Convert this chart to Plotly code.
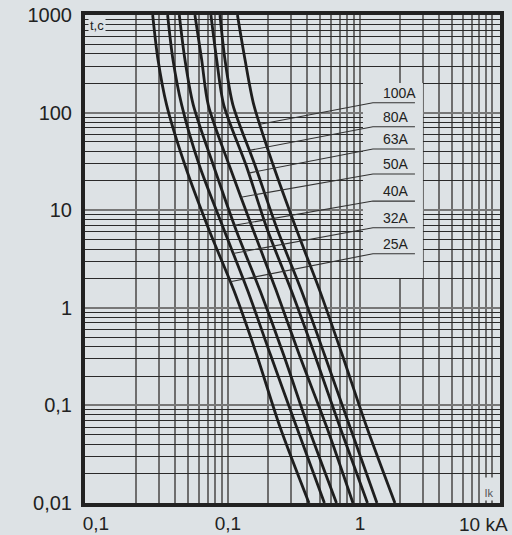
import numpy as np
import plotly.graph_objects as go

# ---- data (time in s, current in kA) ----
t_levels = [1000, 350, 120, 29, 6.3, 1.5, 0.33, 0.06, 0.01]
fuse_labels = ["25A", "32A", "40A", "50A", "63A", "80A", "100A"]
i_25a = [0.0269, 0.0295, 0.0343, 0.0472, 0.0718, 0.111, 0.165, 0.248, 0.411]
i_32a = [0.0349, 0.0383, 0.0446, 0.0606, 0.0933, 0.141, 0.210, 0.331, 0.538]
i_40a = [0.0428, 0.0472, 0.0546, 0.0774, 0.115, 0.175, 0.264, 0.406, 0.664]
i_50a = [0.0562, 0.0632, 0.0709, 0.102, 0.155, 0.232, 0.347, 0.560, 0.885]
i_63a = [0.0743, 0.0821, 0.0929, 0.137, 0.199, 0.302, 0.454, 0.705, 1.14]
i_80a = [0.0870, 0.0949, 0.109, 0.160, 0.237, 0.360, 0.539, 0.840, 1.345]
i_100a = [0.118, 0.1346, 0.157, 0.220, 0.331, 0.496, 0.734, 1.125, 1.84]
currents = [i_25a, i_32a, i_40a, i_50a, i_63a, i_80a, i_100a]

leader_t = [1.85, 3.6, 7.0, 13.6, 24, 41, 76]        # where leader touches curve
label_t = [3.58, 6.62, 12.4, 23.5, 42.4, 71.7, 126]  # underline level

y_tick_vals = [0.01, 0.1, 1, 10, 100, 1000]
y_tick_text = ["0,01", "0,1", "1", "10", "100", "1000"]
x_tick_vals = [0.01, 0.1, 1]
x_tick_text = ["0,1", "0,1", "1"]
x_unit_label = "10 kA"
y_axis_label = "t,c"
x_axis_label = "Ik"

# ---- styling ----
BG = "#dde2e5"
INK = "#1e1e1e"
FONT = "Liberation Sans, Arial, sans-serif"

box_x = [1.054, 3.0]
box_t = [2.02, 201]
leader_x0 = 1.254
underline_x1 = 2.61
text_x = 1.44

x_grid = [m * 10.0 ** k for k in range(-2, 2) for m in range(1, 10) if m * 10.0 ** k <= 10.0001]
x_grid = [v for v in x_grid if v > 0.0101]
y_minor = [m * 10.0 ** k for k in range(-2, 3) for m in range(2, 10)]

fig = go.Figure()

# label box (covers grid)
fig.add_trace(go.Scatter(
    x=[box_x[0], box_x[1], box_x[1], box_x[0], box_x[0]],
    y=[box_t[0], box_t[0], box_t[1], box_t[1], box_t[0]],
    mode="lines", fill="toself", fillcolor=BG,
    line=dict(color=BG, width=0), hoverinfo="skip", showlegend=False))

for name, cur in zip(fuse_labels, currents):
    fig.add_trace(go.Scatter(
        x=cur, y=t_levels, mode="lines", name=name,
        line=dict(color=INK, width=2.8, shape="spline", smoothing=0.8),
        showlegend=False))

annotations = []
log_t = np.log10(t_levels[::-1])
for name, cur, lt, ut in zip(fuse_labels, currents, leader_t, label_t):
    i_end = 10 ** np.interp(np.log10(lt), log_t, np.log10(cur[::-1]))
    fig.add_trace(go.Scatter(
        x=[i_end, leader_x0, underline_x1], y=[lt, ut, ut],
        mode="lines", line=dict(color="#333333", width=1.1),
        hoverinfo="skip", showlegend=False))
    annotations.append(dict(
        x=np.log10(text_x), y=np.log10(ut), xref="x", yref="y",
        text=name, showarrow=False, xanchor="left", yanchor="bottom",
        yshift=0, font=dict(size=14, color="#222222", family=FONT)))

annotations += [
    dict(x=0, y=1, xref="paper", yref="paper", text=y_axis_label, showarrow=False,
         xanchor="left", yanchor="top", xshift=3, yshift=-1, bgcolor=BG, borderpad=1,
         font=dict(size=13, color="#222222", family=FONT)),
    dict(x=1, y=0, xref="paper", yref="paper", text=x_axis_label, showarrow=False,
         xanchor="right", yanchor="bottom", xshift=-2, yshift=2, bgcolor=BG,
         width=14, height=20, valign="bottom",
         font=dict(size=11, color="#555555", family=FONT)),
    dict(x=1, y=0, xref="paper", yref="paper", text=x_unit_label, showarrow=False,
         xanchor="right", yanchor="top", xshift=10, yshift=-9,
         font=dict(size=19, color="#222222", family=FONT)),
]

fig.update_layout(
    width=512, height=535, autosize=False,
    margin=dict(l=85, r=12, t=15, b=32, pad=0),
    paper_bgcolor=BG, plot_bgcolor=BG,
    font=dict(family=FONT, color="#222222"),
    annotations=annotations,
    xaxis=dict(
        type="log", range=[-2.083, 1.061], automargin=False,
        tickmode="array", tickvals=x_tick_vals, ticktext=x_tick_text,
        tickfont=dict(size=19, color="#222222"),
        ticks="", showgrid=False, zeroline=False,
        minor=dict(tickmode="array", tickvals=x_grid, showgrid=True,
                   gridcolor="#6e6e6e", gridwidth=1.5, ticks=""),
        showline=True, mirror=True, linecolor="#222222", linewidth=4,
    ),
    yaxis=dict(
        type="log", range=[-2, 3], automargin=False,
        tickmode="array", tickvals=y_tick_vals, ticktext=y_tick_text,
        tickfont=dict(size=20, color="#222222"),
        ticks="outside", ticklen=5, tickcolor="rgba(0,0,0,0)",
        showgrid=True, gridcolor="#777777", gridwidth=1.6, zeroline=False,
        minor=dict(tickmode="array", tickvals=y_minor, showgrid=True,
                   gridcolor="#2a2a2a", gridwidth=1.3, ticks=""),
        showline=True, mirror=True, linecolor="#222222", linewidth=4,
    ),
)

fig.write_html(
    "out.html",
    config={"displayModeBar": False},
    post_script="document.body.style.margin='0';document.body.style.overflow='hidden';",
)
